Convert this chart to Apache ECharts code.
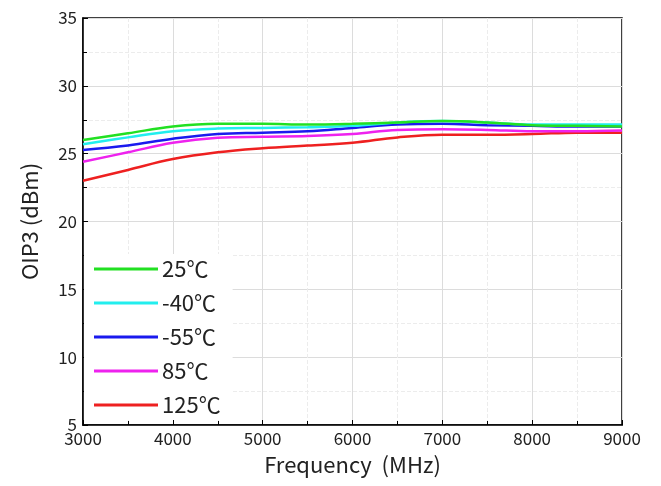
<!DOCTYPE html>
<html>
<head>
<meta charset="utf-8">
<script src="https://cdn.jsdelivr.net/npm/echarts@6/dist/echarts.min.js"></script>
<style>
html,body{margin:0;padding:0;background:#fff;}
#chart{width:661px;height:486px;}
</style>
</head>
<body>
<div id="chart"></div>
<script>
// Frequency points (MHz)
const freq = [3000, 3500, 4000, 4500, 5000, 5500, 6000, 6500, 7000, 7500, 8000, 8500, 9000];
// OIP3 (dBm) per temperature
const oip3_25  = [26.0, 26.5, 27.0, 27.2, 27.2, 27.15, 27.2, 27.3, 27.4, 27.3, 27.1, 27.05, 27.0];
const oip3_m40 = [25.7, 26.2, 26.65, 26.85, 26.9, 26.95, 27.05, 27.3, 27.4, 27.3, 27.15, 27.15, 27.15];
const oip3_m55 = [25.27, 25.6, 26.1, 26.45, 26.55, 26.65, 26.9, 27.15, 27.2, 27.1, 27.05, 27.0, 27.0];
const oip3_85  = [24.4, 25.1, 25.8, 26.17, 26.25, 26.3, 26.45, 26.75, 26.8, 26.75, 26.65, 26.65, 26.7];
const oip3_125 = [23.0, 23.8, 24.6, 25.1, 25.4, 25.6, 25.8, 26.2, 26.4, 26.4, 26.45, 26.55, 26.55];

const seriesNames = ['25℃', '-40℃', '-55℃', '85℃', '125℃'];
const seriesData = [oip3_25, oip3_m40, oip3_m55, oip3_85, oip3_125];
const colors = ['#22e022', '#22eeee', '#1a1aee', '#ee22ee', '#ee2020'];

const FONT = '"Noto Sans CJK SC", "Noto Sans", sans-serif';

const chart = echarts.init(document.getElementById('chart'));
chart.setOption({
  animation: false,
  backgroundColor: '#fff',
  grid: {
    left: 83, right: 39, top: 18, bottom: 61,
    show: true, borderColor: '#000', borderWidth: 1.5, backgroundColor: 'transparent'
  },
  legend: {
    orient: 'vertical',
    left: 84, top: 254,
    data: seriesNames,
    icon: 'rect',
    itemWidth: 64, itemHeight: 3,
    itemGap: 12,
    padding: [4, 12, 4, 10],
    backgroundColor: '#fff',
    textStyle: { fontFamily: FONT, fontSize: 22, color: '#222', padding: [0, 0, 0, -1] }
  },
  xAxis: {
    type: 'value', min: 3000, max: 9000, interval: 1000,
    name: 'Frequency  (MHz)', nameLocation: 'middle', nameGap: 29,
    nameTextStyle: { fontFamily: FONT, fontSize: 22, color: '#222' },
    axisLine: { lineStyle: { color: '#000', width: 1.5 } },
    axisTick: { inside: true, length: 5, lineStyle: { color: '#000' } },
    minorTick: { show: true, splitNumber: 2, length: 4, lineStyle: { color: '#000' } },
    axisLabel: { fontFamily: FONT, fontSize: 17, color: '#222', margin: 5, formatter: v => String(v) },
    splitLine: { lineStyle: { color: '#dcdcdc', width: 1 } },
    minorSplitLine: { show: true, lineStyle: { color: '#ececec', type: 'dashed' } }
  },
  yAxis: {
    type: 'value', min: 5, max: 35, interval: 5,
    name: 'OIP3 (dBm)', nameLocation: 'middle', nameGap: 42, nameRotate: 90,
    nameTextStyle: { fontFamily: FONT, fontSize: 22, color: '#222' },
    axisLine: { lineStyle: { color: '#000', width: 1.5 } },
    axisTick: { inside: true, length: 5, lineStyle: { color: '#000' } },
    minorTick: { show: true, splitNumber: 2, length: 4, lineStyle: { color: '#000' } },
    axisLabel: { fontFamily: FONT, fontSize: 17, color: '#222', margin: 6 },
    splitLine: { lineStyle: { color: '#dcdcdc', width: 1 } },
    minorSplitLine: { show: true, lineStyle: { color: '#ececec', type: 'dashed' } }
  },
  series: seriesNames.map((name, i) => ({
    name: name,
    type: 'line',
    smooth: 0.4,
    showSymbol: false,
    data: freq.map((f, j) => [f, seriesData[i][j]]),
    lineStyle: { color: colors[i], width: 2.5 },
    itemStyle: { color: colors[i] },
    z: 5 - i
  }))
});
</script>
</body>
</html>
